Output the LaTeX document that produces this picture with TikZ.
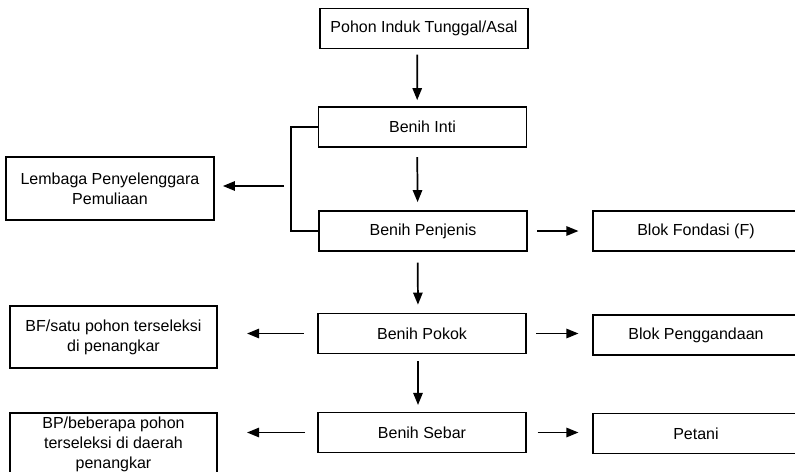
\documentclass[tikz,border=0pt]{standalone}
\usepackage{fontspec}
\setmainfont{Liberation Sans}
\usetikzlibrary{arrows.meta}

\begin{document}
\begin{tikzpicture}[x=0.75pt,y=-0.75pt,>={Triangle[length=9pt,width=7pt]},
  box/.style={draw,line width=1.3pt,minimum width=156pt,minimum height=30pt,
    inner sep=0pt,align=center,font=\fontsize{12}{15}\selectfont},
  tallbox/.style={box,minimum height=47pt},
  link/.style={->,line width=1.3pt}]
  \useasboundingbox (0,0) rectangle (795,471);
  \clip (0,0) rectangle (795,471);
  % middle column
  \node[box] (pohon) at (424,28.5) {Pohon Induk Tunggal/Asal};
  \node[box] (inti) at (422.5,127) {Benih Inti};
  \node[box] (penjenis) at (423,231) {Benih Penjenis};
  \node[box] (pokok) at (422,333.5) {Benih Pokok};
  \node[box] (sebar) at (422,432.5) {Benih Sebar};
  % left column
  \node[tallbox] (lembaga) at (110,188.5) {Lembaga Penyelenggara\\Pemuliaan};
  \node[tallbox,minimum width=155pt] (bf) at (113.5,337) {BF/satu pohon terseleksi\\di penangkar};
  \node[tallbox,minimum width=155pt] (bp) at (113.5,444.5) {BP/beberapa pohon\\terseleksi di daerah\\penangkar};
  % right column
  \node[box,minimum width=155pt] (fondasi) at (696,231) {Blok Fondasi (F)};
  \node[box,minimum width=155pt] (ganda) at (696,335) {Blok Penggandaan};
  \node[box,minimum width=155pt] (petani) at (696,433.5) {Petani};
  % down arrows
  \draw[link,shorten <=4pt,shorten >=4.5pt] ([xshift=-5pt]pohon.south) -- ([xshift=-4pt]inti.north);
  \draw[link,shorten <=7pt,shorten >=6pt] ([xshift=-4pt]inti.south) -- ([xshift=-4pt]penjenis.north);
  \draw[link,shorten <=8pt,shorten >=6pt] ([xshift=-4pt]penjenis.south) -- ([xshift=-3pt]pokok.north);
  \draw[link,shorten <=5pt,shorten >=5pt] ([xshift=-3pt]pokok.south) -- ([xshift=-3pt]sebar.north);
  % bracket
  \draw[line width=1.3pt] (inti.west) -- ++(-27,0) |- (penjenis.west);
  \coordinate (lt) at (284,186);
  \draw[link,shorten >=6pt] (lt) -- (lt -| lembaga.east);
  % side arrows
  \draw[link,shorten <=7pt,shorten >=10pt] (penjenis.east) -- (fondasi.west);
  \draw[link,shorten <=7pt,shorten >=10pt] (pokok.east) -- (pokok.east -| ganda.west);
  \draw[link,shorten <=8pt,shorten >=10pt] (sebar.east) -- (sebar.east -| petani.west);
  \draw[link,shorten <=10pt,shorten >=22pt] (pokok.west) -- (pokok.west -| bf.east);
  \draw[link,shorten <=9pt,shorten >=22pt] (sebar.west) -- (sebar.west -| bp.east);
\end{tikzpicture}
\end{document}
